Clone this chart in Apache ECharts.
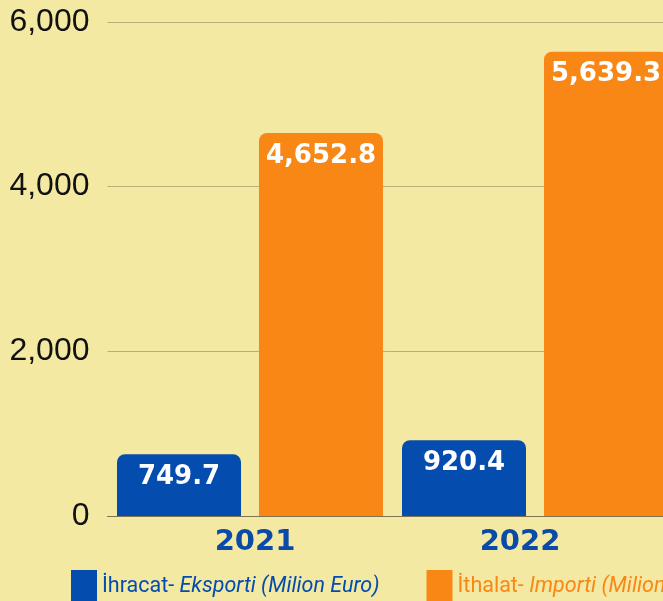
<!DOCTYPE html>
<html>
<head>
<meta charset="utf-8">
<script src="https://cdn.jsdelivr.net/npm/echarts@6/dist/echarts.min.js"></script>
<style>
  html, body { margin: 0; padding: 0; background: #f4e9a2; }
  #main { width: 663px; height: 601px; }
</style>
</head>
<body>
<div id="main"></div>
<script>
// data
var years = ["2021", "2022"];
var exportName = "İhracat- Eksporti (Milion Euro)";
var importName = "İthalat- Importi (Milion Euro)";
var exportValues = [749.7, 920.4];
var importValues = [4652.8, 5639.3];
var yTicks = [0, 2000, 4000, 6000];

var BLUE = "#044cad";
var ORANGE = "#f88716";

var myChart = echarts.init(document.getElementById("main"));

function fmt(v) {
  return v.toLocaleString("en-US", { minimumFractionDigits: 1, maximumFractionDigits: 1 });
}

var barLabel = {
  show: true,
  position: "insideTop",
  distance: 10,
  color: "#ffffff",
  fontFamily: "DejaVu Sans",
  fontWeight: "bold",
  fontSize: 26,
  formatter: function (p) {
    return fmt(p.value);
  },
};

var legendFont = "Roboto, sans-serif";
var legendSize = 21.5;

var yearFont = {
  color: "#0a4aa8",
  fontFamily: "DejaVu Sans",
  fontWeight: "bold",
  fontSize: 29,
};

var options = {
  backgroundColor: "#f4e9a2",
  animation: false,
  grid: {
    left: 107.5,
    top: 22,
    width: 570,
    bottom: 85,
    outerBoundsMode: "none",
    containLabel: false,
  },
  legend: {
    left: 71,
    top: 570,
    width: 1200,
    padding: 0,
    itemWidth: 26,
    itemHeight: 34,
    itemGap: 47,
    icon: "rect",
    data: [
      { name: exportName },
      { name: importName },
    ],
    formatter: function (name) {
      var parts = name.split("- ");
      var k = name === exportName ? "1" : "2";
      return "{a" + k + "|" + parts[0] + "- }{b" + k + "|" + parts[1] + "}";
    },
    textStyle: {
      fontFamily: legendFont,
      fontSize: legendSize,
      padding: [0, 0, 0, 0],
      rich: {
        a1: { color: BLUE, fontFamily: legendFont, fontSize: legendSize },
        b1: { color: BLUE, fontFamily: legendFont, fontSize: legendSize, fontStyle: "italic" },
        a2: { color: ORANGE, fontFamily: legendFont, fontSize: legendSize },
        b2: { color: ORANGE, fontFamily: legendFont, fontSize: legendSize, fontStyle: "italic" },
      },
    },
  },
  xAxis: {
    type: "category",
    data: years,
    axisTick: { show: false },
    axisLine: { show: true, lineStyle: { color: "#7d7350", width: 1 } },
    axisLabel: {
      margin: 12,
      color: yearFont.color,
      fontFamily: yearFont.fontFamily,
      fontWeight: yearFont.fontWeight,
      fontSize: yearFont.fontSize,
      // labels in the source sit a little off the group centres
      formatter: function (v, i) {
        return (i === 0 ? "{l|" : "{r|") + v + "}";
      },
      rich: {
        l: Object.assign({ padding: [0, 0, 0, 10] }, yearFont),
        r: Object.assign({ padding: [0, 30, 0, 0] }, yearFont),
      },
    },
  },
  yAxis: {
    type: "value",
    min: yTicks[0],
    max: yTicks[yTicks.length - 1],
    interval: 2000,
    axisLine: { show: false },
    axisTick: { show: false },
    splitLine: { show: true, lineStyle: { color: "#b8ae78", width: 1 } },
    axisLabel: {
      margin: 18,
      color: "#111111",
      fontFamily: "Liberation Sans",
      fontSize: 32,
      formatter: function (v) {
        return v.toLocaleString("en-US");
      },
    },
  },
  series: [
    {
      name: exportName,
      type: "bar",
      data: exportValues,
      barWidth: 124,
      barGap: "14.5%",
      itemStyle: { color: BLUE, borderRadius: [8, 8, 0, 0] },
      label: barLabel,
    },
    {
      name: importName,
      type: "bar",
      data: importValues,
      barWidth: 124,
      barGap: "14.5%",
      itemStyle: { color: ORANGE, borderRadius: [8, 8, 0, 0] },
      label: barLabel,
    },
  ],
};
myChart.setOption(options);
</script>
</body>
</html>
